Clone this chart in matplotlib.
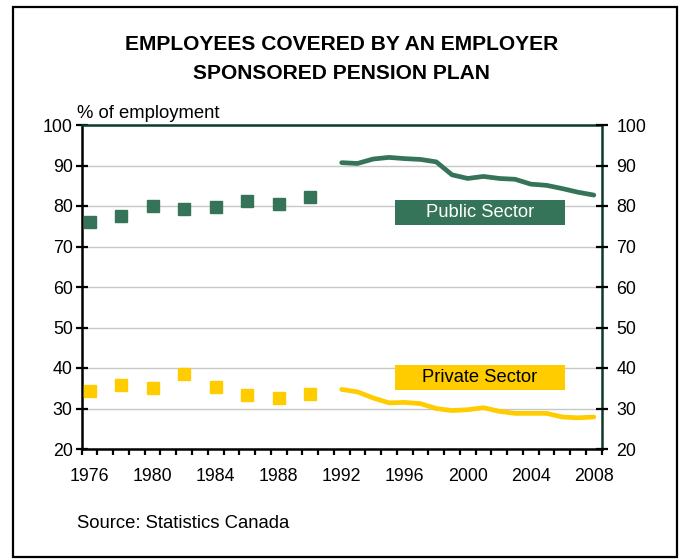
import matplotlib
matplotlib.use("Agg")
import matplotlib.pyplot as plt
from matplotlib.patches import Rectangle
import numpy as np

plt.rcParams['font.family'] = ['Liberation Sans', 'DejaVu Sans']

# Survey years (every category on the axis)
years = list(range(1976, 2009))

# Biennial observations, 1976-1990
early_years = [1976, 1978, 1980, 1982, 1984, 1986, 1988, 1990]
public_early = [76.0, 77.5, 80.0, 79.3, 79.8, 81.2, 80.6, 82.3]
private_early = [34.4, 35.7, 35.1, 38.5, 35.2, 33.4, 32.5, 33.6]

# Annual series, 1992-2008
late_years = list(range(1992, 2009))
public_late = [90.7, 90.5, 91.6, 92.0, 91.7, 91.5, 90.9, 87.7, 86.8, 87.3,
               86.8, 86.6, 85.4, 85.1, 84.3, 83.4, 82.7]
private_late = [34.7, 34.1, 32.6, 31.4, 31.5, 31.2, 30.0, 29.5, 29.7, 30.2,
                29.3, 28.8, 28.8, 28.8, 27.9, 27.7, 27.9]

year_labels = [str(y) for y in range(1976, 2009, 4)]

GREEN = '#357458'
YELLOW = '#FFCC00'
DARK_GREEN = '#0B3A2A'

fig = plt.figure(figsize=(6.83, 5.59), dpi=100)
fig.patch.set_facecolor('white')

# outer frame
fig.add_artist(Rectangle((13 / 683, 1 - 557 / 559), (677 - 13) / 683, (557 - 7) / 559,
                         transform=fig.transFigure, fill=False, edgecolor='black',
                         linewidth=1.6))

ax = fig.add_axes([81.7 / 683, 1 - 449 / 559, 520 / 683, 324 / 559])

idx = {y: i for i, y in enumerate(years)}
xe = [idx[y] for y in early_years]
xl = [idx[y] for y in late_years]

ax.plot(xe, public_early, linestyle='none', marker='s', markersize=9.3,
        color=GREEN, zorder=3)
ax.plot(xe, private_early, linestyle='none', marker='s', markersize=9.3,
        color=YELLOW, zorder=3)
ax.plot(xl, public_late, color=GREEN, linewidth=3.4, solid_capstyle='round', zorder=3)
ax.plot(xl, private_late, color=YELLOW, linewidth=3.4, solid_capstyle='round', zorder=3)

ax.set_xlim(-0.5, len(years) - 0.5)
ax.set_ylim(20, 100)

# horizontal grid
for v in range(30, 100, 10):
    ax.axhline(v, color='#C8C8C8', linewidth=1.0, zorder=1)

# x ticks: marks on category boundaries, labels every fourth year
ax.set_xticks(np.arange(-0.5, len(years) + 0.5, 1.0))
ax.set_xticklabels([])
ax.set_xticks([idx[int(s)] for s in year_labels], minor=True)
ax.set_xticklabels(year_labels, minor=True)
ax.tick_params(axis='x', which='major', direction='out', length=4.5, width=1.6, color='black')
ax.tick_params(axis='x', which='minor', length=0, pad=14, labelsize=12.8)

ax.set_yticks(range(20, 101, 10))
ax.tick_params(axis='y', direction='inout', length=9, width=1.6, labelsize=12.8,
               color='black', pad=2)

for side, col in [('left', 'black'), ('bottom', 'black'),
                  ('right', DARK_GREEN), ('top', DARK_GREEN)]:
    ax.spines[side].set_color(col)
    ax.spines[side].set_linewidth(1.8)

ax2 = ax.twinx()
ax2.set_ylim(20, 100)
ax2.set_yticks(range(20, 101, 10))
ax2.tick_params(axis='y', direction='inout', length=9, width=1.6, labelsize=12.8,
                color='black', pad=6)
for s in ax2.spines.values():
    s.set_visible(False)

# series labels in fixed-size boxes
box_w, box_h = 10.8, 6.2
box_cx = 24.77
for cy, text, fc, tc in [(78.4, 'Public Sector', GREEN, 'white'),
                         (37.65, 'Private Sector', YELLOW, 'black')]:
    ax.add_patch(Rectangle((box_cx - box_w / 2, cy - box_h / 2), box_w, box_h,
                           facecolor=fc, edgecolor='none', zorder=4))
    ax.text(box_cx, cy, text, ha='center', va='center', fontsize=13.2,
            color=tc, zorder=5)

fig.text(0.5, 1 - 44.5 / 559, 'EMPLOYEES COVERED BY AN EMPLOYER', ha='center', va='center',
         fontsize=15.1, fontweight='bold')
fig.text(0.5, 1 - 73.5 / 559, 'SPONSORED PENSION PLAN', ha='center', va='center',
         fontsize=15.1, fontweight='bold')
fig.text(77 / 683, 1 - 113 / 559, '% of employment', ha='left', va='center', fontsize=13.3)
fig.text(77 / 683, 1 - 523 / 559, 'Source: Statistics Canada', ha='left', va='center',
         fontsize=13.3)

fig.savefig('out.png', dpi=100)
